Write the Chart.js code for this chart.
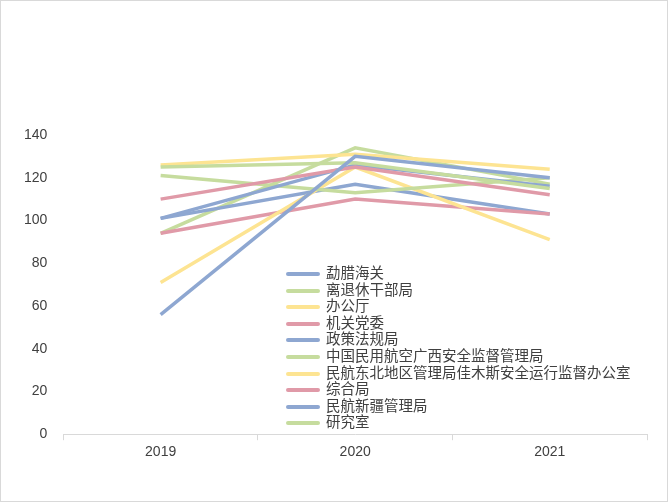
<!DOCTYPE html>
<html>
<head>
<meta charset="utf-8">
<script src="https://cdn.jsdelivr.net/npm/chart.js@4"></script>
<style>
  body { margin: 0; background: #fff; }
  #wrap { position: relative; width: 666px; height: 500px; border: 1px solid #d9d9d9; }
  #legend { position: absolute; left: 285px; top: 263px; font: 14.5px "Noto Sans CJK SC", sans-serif; color: #404040; }
  #legend div { height: 16.6px; line-height: 16.6px; white-space: nowrap; }
  #legend span { display: inline-block; width: 34px; height: 4px; vertical-align: middle; margin-right: 6px; border-radius: 2px; }
</style>
</head>
<body>
<div id="wrap">
  <canvas id="chart" width="666" height="500"></canvas>
  <div id="legend"></div>
</div>
<script>
document.addEventListener("DOMContentLoaded", function () {
    const years = ["2019", "2020", "2021"];
    const names = ["勐腊海关", "离退休干部局", "办公厅", "机关党委", "政策法规局",
        "中国民用航空广西安全监督管理局", "民航东北地区管理局佳木斯安全运行监督办公室",
        "综合局", "民航新疆管理局", "研究室"];
    const values = [
        [56, 130, 120],
        [125, 127, 115],
        [126, 131, 124],
        [110, 125, 112],
        [101, 126, 116],
        [121, 113, 120],
        [71, 125, 91],
        [94, 110, 103],
        [101, 117, 103],
        [94, 134, 117],
    ];
    const palette = ["#8ea7d1", "#c6dc9e", "#fde492", "#e09aa8"];

    const legend = document.getElementById("legend");
    names.forEach(function (n, i) {
        const row = document.createElement("div");
        row.innerHTML = '<span style="background:' + palette[i % 4] + '"></span>' + n;
        legend.appendChild(row);
    });

    const ctx = document.getElementById("chart").getContext("2d");
    new Chart(ctx, {
        type: "line",
        data: {
            labels: years,
            datasets: names.map(function (n, i) {
                return {
                    label: n,
                    data: values[i],
                    borderColor: palette[i % 4],
                    borderWidth: 3.5,
                    pointRadius: 0,
                    fill: false,
                };
            }),
        },
        options: {
            responsive: false,
            animation: false,
            layout: { padding: { top: 134, right: 20, left: 15, bottom: 36 } },
            plugins: { legend: { display: false }, tooltip: { enabled: false } },
            scales: {
                x: {
                    offset: true,
                    grid: { offset: true, drawOnChartArea: false, color: "#d9d9d9", tickLength: 6 },
                    border: { color: "#d9d9d9" },
                    ticks: { color: "#404040", font: { size: 14 }, padding: 4 },
                },
                y: {
                    min: 0,
                    max: 140,
                    ticks: { stepSize: 20, color: "#404040", font: { size: 14 }, padding: 8 },
                    grid: { display: false },
                    border: { display: false },
                },
            },
        },
    });
});
</script>
</body>
</html>
